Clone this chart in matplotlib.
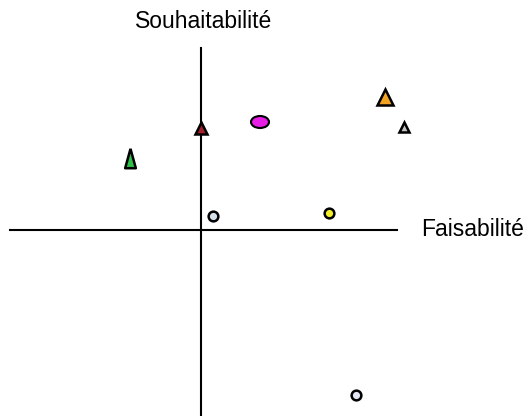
import matplotlib
matplotlib.use("Agg")
import matplotlib.pyplot as plt
from matplotlib.patches import Ellipse

# positions des projets (faisabilité, souhaitabilité)
tri_x = [-7.1, 0.0, 18.4, 20.3]
tri_y = [7.2, 10.2, 13.3, 10.3]
tri_colors = ["#2fbf4a", "#a3202c", "#f2a324", "#c4c4c4"]
tri_sizes = [14, 8, 11, 7.5]

circ_x = [1.2, 12.8, 15.5]
circ_y = [1.4, 1.7, -16.5]
circ_colors = ["#d4dfe9", "#f2ef2a", "#e2e6f2"]

ell_x = [5.9]
ell_y = [10.8]
ell_colors = ["#e61ee6"]

x_label = "Faisabilité"
y_label = "Souhaitabilité"

plt.rcParams["font.family"] = ["Liberation Sans", "DejaVu Sans"]

fig = plt.figure(figsize=(5.32, 4.16), dpi=100)
ax = fig.add_axes([0, 0, 1, 1])
ax.set_xlim(-20.1, 33.1)
ax.set_ylim(-18.6, 23.0)
ax.axis("off")

# axes
ax.plot([-19.1, 19.6], [0, 0], color="black", lw=1.5, zorder=1)
ax.plot([0, 0], [-18.6, 18.2], color="black", lw=1.5, zorder=1)

ax.text(0.3, 20.8, y_label, ha="center", va="center", fontsize=16.5)
ax.text(22.0, 0.0, x_label, ha="left", va="center", fontsize=16.5)

# triangles (le vert est plus étroit)
narrow = [(0, 1), (-0.55, -1), (0.55, -1), (0, 1)]
for x, y, c, s in zip(tri_x, tri_y, tri_colors, tri_sizes):
    m = narrow if c == "#2fbf4a" else "^"
    ax.plot(x, y, marker=m, ms=s, mfc=c, mec="black", mew=1.8, ls="none", zorder=3)

for x, y, c in zip(circ_x, circ_y, circ_colors):
    ax.plot(x, y, marker="o", ms=7, mfc=c, mec="black", mew=1.8, ls="none", zorder=3)

for x, y, c in zip(ell_x, ell_y, ell_colors):
    ax.add_patch(Ellipse((x, y), 1.8, 1.2, facecolor=c, edgecolor="black", lw=1.5, zorder=3))

fig.savefig("out.png", dpi=100)
